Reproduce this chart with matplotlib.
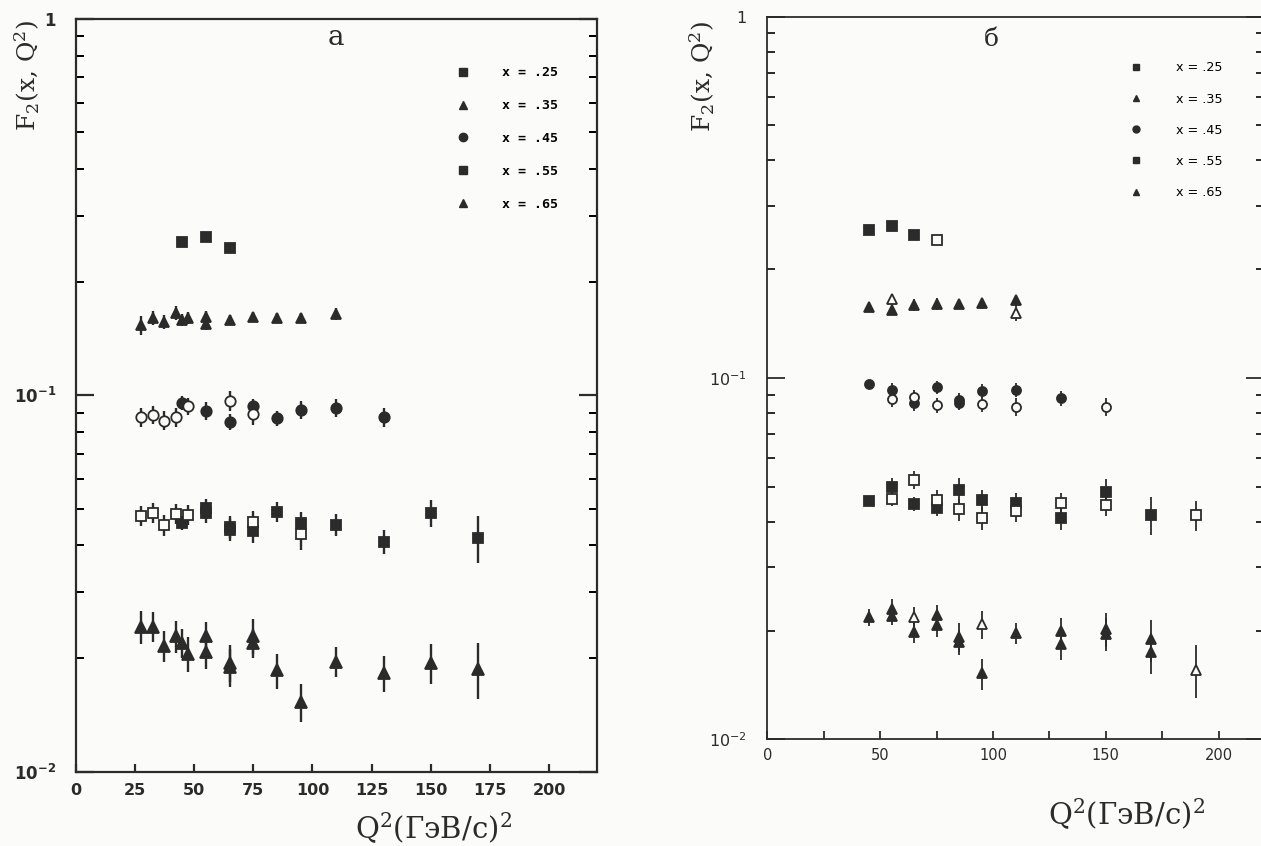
import numpy as np
import matplotlib
matplotlib.use("Agg")
import matplotlib.pyplot as plt
from matplotlib.ticker import LogLocator, NullFormatter
from matplotlib.lines import Line2D

INK = '#2b2b2b'
PAPER = '#fbfbf9'

# ---------- panel "a" ----------
a25_q2 = [45, 55, 65]
a25_f2 = [0.255, 0.264, 0.247]
a25_err = [0.006, 0.006, 0.006]

a35_q2 = [27.5, 32.5, 37.5, 42.5, 45, 47.5, 55, 55, 65, 75, 85, 95, 110]
a35_f2 = [0.154, 0.161, 0.157, 0.166, 0.159, 0.161, 0.162, 0.155, 0.159, 0.162, 0.161, 0.161, 0.165]
a35_err = [0.009, 0.007, 0.007, 0.007, 0.006, 0.006, 0.006, 0.006, 0.005, 0.005, 0.005, 0.005, 0.006]

a45_q2 = [27.5, 32.5, 37.5, 42.5, 45, 47.5, 55, 65, 65, 75, 75, 85, 95, 110, 130]
a45_f2 = [0.0876, 0.0889, 0.0857, 0.0876, 0.0954, 0.0935, 0.0911, 0.0968, 0.0850,
          0.0939, 0.0894, 0.0871, 0.0916, 0.0926, 0.0874]
a45_err = [0.005, 0.005, 0.005, 0.005, 0.004, 0.005, 0.005, 0.006, 0.004,
           0.004, 0.006, 0.004, 0.005, 0.005, 0.005]
a45_open = [1, 1, 1, 1, 0, 1, 0, 1, 0, 0, 1, 0, 0, 0, 0]

a55_q2 = [27.5, 32.5, 37.5, 42.5, 45, 47.5, 55, 55, 65, 65, 75, 75, 85, 95, 95, 110, 130, 150, 170]
a55_f2 = [0.0479, 0.0488, 0.0452, 0.0484, 0.0458, 0.0482, 0.0502, 0.0488, 0.0448, 0.0440,
          0.0462, 0.0435, 0.0490, 0.0459, 0.0428, 0.0453, 0.0409, 0.0487, 0.0418]
a55_err = [0.003, 0.003, 0.003, 0.003, 0.002, 0.003, 0.003, 0.003, 0.003, 0.003,
           0.003, 0.003, 0.003, 0.003, 0.004, 0.003, 0.003, 0.004, 0.006]
a55_open = [1, 1, 1, 1, 0, 1, 0, 0, 0, 0, 1, 0, 0, 0, 1, 0, 0, 0, 0]

a65_q2 = [27.5, 32.5, 37.5, 42.5, 45, 47.5, 55, 55, 65, 65, 75, 75, 85, 95, 110, 130, 150, 170]
a65_f2 = [0.0243, 0.0243, 0.0216, 0.0229, 0.0220, 0.0206, 0.0230, 0.0208, 0.0195, 0.0190,
          0.0230, 0.0220, 0.0186, 0.01535, 0.0196, 0.0183, 0.0195, 0.0188]
a65_err = [0.0024, 0.0022, 0.002, 0.0022, 0.002, 0.0022, 0.002, 0.002, 0.0022, 0.0022,
           0.0025, 0.002, 0.002, 0.0018, 0.0018, 0.002, 0.0024, 0.0032]

# ---------- panel "б" ----------
b25_q2 = [45, 55, 65, 75]
b25_f2 = [0.256, 0.264, 0.248, 0.241]
b25_err = [0.005, 0.008, 0.007, 0.008]
b25_open = [0, 0, 0, 1]

b35_q2 = [45, 55, 55, 65, 75, 85, 95, 110, 110]
b35_f2 = [0.157, 0.165, 0.154, 0.159, 0.160, 0.160, 0.161, 0.164, 0.151]
b35_err = [0.004, 0.006, 0.005, 0.006, 0.006, 0.005, 0.006, 0.006, 0.007]
b35_open = [0, 1, 0, 0, 0, 0, 0, 0, 1]

b45_q2 = [45, 55, 55, 65, 65, 75, 75, 85, 85, 95, 95, 110, 110, 130, 150]
b45_f2 = [0.0961, 0.0926, 0.0873, 0.0884, 0.0851, 0.0943, 0.0842, 0.0869, 0.0855,
          0.0922, 0.0847, 0.0926, 0.0833, 0.0879, 0.0833]
b45_err = [0.002, 0.004, 0.004, 0.004, 0.004, 0.004, 0.004, 0.004, 0.004,
           0.004, 0.004, 0.004, 0.005, 0.004, 0.005]
b45_open = [0, 0, 1, 1, 0, 0, 1, 0, 0, 0, 1, 0, 1, 0, 1]

b55_q2 = [45, 55, 55, 65, 65, 75, 75, 85, 85, 95, 95, 110, 110, 130, 130, 150, 150, 170, 190]
b55_f2 = [0.0457, 0.0498, 0.0462, 0.0522, 0.0448, 0.0459, 0.0436, 0.0490, 0.0433, 0.0459,
          0.0409, 0.0452, 0.0429, 0.0450, 0.0409, 0.0485, 0.0445, 0.0418, 0.0418]
b55_err = [0.0015, 0.003, 0.002, 0.003, 0.002, 0.003, 0.002, 0.004, 0.003, 0.003,
           0.003, 0.003, 0.003, 0.003, 0.003, 0.004, 0.003, 0.005, 0.004]
b55_open = [0, 0, 1, 1, 0, 1, 0, 0, 1, 0, 1, 0, 1, 1, 0, 0, 1, 0, 1]

b65_q2 = [45, 55, 55, 65, 65, 75, 75, 85, 85, 95, 95, 110, 130, 130, 150, 150, 170, 170, 190]
b65_f2 = [0.0218, 0.0230, 0.0219, 0.0218, 0.0198, 0.0221, 0.0207, 0.0192, 0.0186, 0.0208,
          0.01523, 0.0197, 0.0199, 0.0184, 0.0202, 0.0196, 0.0189, 0.0174, 0.0156]
b65_err = [0.0012, 0.0015, 0.0012, 0.0015, 0.0013, 0.0015, 0.0015, 0.0018, 0.0015, 0.0018,
           0.0015, 0.0013, 0.0018, 0.0018, 0.0022, 0.002, 0.0025, 0.0022, 0.0026]
b65_open = [0, 0, 0, 1, 0, 0, 0, 0, 0, 1, 0, 0, 0, 0, 0, 0, 0, 0, 1]

legend_labels = ['x = .25', 'x = .35', 'x = .45', 'x = .55', 'x = .65']
legend_markers = ['s', '^', 'o', 's', '^']

a_xticks = [0, 25, 50, 75, 100, 125, 150, 175, 200]
b_xticks = [0, 50, 100, 150, 200]
b_xminor = [25, 75, 125, 175]


def draw_group(ax, q2, f2, err, hollow, marker, ms, lw):
    q2, f2, err = np.asarray(q2), np.asarray(f2), np.asarray(err)
    hollow = np.asarray(hollow, dtype=bool)
    for mask, face in ((~hollow, INK), (hollow, PAPER)):
        if mask.any():
            ax.errorbar(q2[mask], f2[mask], yerr=err[mask], fmt=marker, ms=ms,
                        mfc=face, mec=INK, mew=1.3, ecolor=INK, elinewidth=lw,
                        capsize=0)


def setup_log_axes(ax, lw, pad):
    ax.set_facecolor(PAPER)
    ax.set_yscale('log')
    ax.set_ylim(0.01, 1)
    ax.set_xlim(0, 220)
    for side in ('left', 'bottom', 'right', 'top'):
        ax.spines[side].set_linewidth(lw)
        ax.spines[side].set_color(INK)
    ax.yaxis.set_minor_locator(LogLocator(base=10, subs=np.arange(2, 10)))
    ax.yaxis.set_minor_formatter(NullFormatter())
    ax.tick_params(axis='y', which='major', direction='in', length=13, width=lw,
                   right=True, pad=pad, colors=INK)
    ax.tick_params(axis='y', which='minor', direction='in', length=6, width=lw * 0.9,
                   right=True)
    ax.tick_params(axis='x', which='both', direction='in', length=6, width=lw,
                   colors=INK)


fig = plt.figure(figsize=(12.61, 8.46), dpi=100, facecolor=PAPER)

# left panel
ax1 = fig.add_axes([0.0600, 0.0878, 0.4132, 0.8897])
setup_log_axes(ax1, 1.6, 14)
ax1.set_xticks(a_xticks, [str(t) for t in a_xticks], fontweight='bold', fontsize=11.5)
ax1.tick_params(axis='x', pad=8)
ax1.set_yticks([0.01, 0.1, 1],
               [r'$\mathbf{10^{-2}}$', r'$\mathbf{10^{-1}}$', r'$\mathbf{1}$'],
               fontsize=12)

draw_group(ax1, a25_q2, a25_f2, a25_err, [0] * len(a25_q2), 's', 7.5, 1.7)
draw_group(ax1, a35_q2, a35_f2, a35_err, [0] * len(a35_q2), '^', 7.5, 1.7)
draw_group(ax1, a45_q2, a45_f2, a45_err, a45_open, 'o', 7.5, 1.7)
draw_group(ax1, a55_q2, a55_f2, a55_err, a55_open, 's', 7.5, 1.7)
draw_group(ax1, a65_q2, a65_f2, a65_err, [0] * len(a65_q2), '^', 8, 1.7)

handles = [Line2D([], [], ls='none', marker=m, ms=6, mfc=INK, mec=INK)
           for m in legend_markers]
ax1.legend(handles, legend_labels, loc='upper left', bbox_to_anchor=(0.730, 0.937),
           frameon=False, borderpad=0, borderaxespad=0, handlelength=1.0,
           handletextpad=2.5, labelspacing=1.5,
           prop={'family': 'DejaVu Sans Mono', 'weight': 'bold', 'size': 9.5})
ax1.text(0.50, 0.975, 'a', transform=ax1.transAxes, ha='center', va='center',
         family='DejaVu Serif', fontsize=20, color=INK)

# right panel
ax2 = fig.add_axes([0.6086, 0.1261, 0.3936, 0.8542])
setup_log_axes(ax2, 1.3, 15)
ax2.set_xticks(b_xticks, [str(t) for t in b_xticks], fontsize=10.5)
ax2.set_xticks(b_xminor, minor=True)
ax2.tick_params(axis='x', pad=6)
ax2.set_yticks([0.01, 0.1, 1], [r'$10^{-2}$', r'$10^{-1}$', r'$1$'], fontsize=11.5)

draw_group(ax2, b25_q2, b25_f2, b25_err, b25_open, 's', 6.5, 1.3)
draw_group(ax2, b35_q2, b35_f2, b35_err, b35_open, '^', 6.5, 1.3)
draw_group(ax2, b45_q2, b45_f2, b45_err, b45_open, 'o', 6.5, 1.3)
draw_group(ax2, b55_q2, b55_f2, b55_err, b55_open, 's', 6.5, 1.3)
draw_group(ax2, b65_q2, b65_f2, b65_err, b65_open, '^', 6.5, 1.3)

handles = [Line2D([], [], ls='none', marker=m, ms=5, mfc=INK, mec=INK)
           for m in legend_markers]
ax2.legend(handles, legend_labels, loc='upper left', bbox_to_anchor=(0.73, 0.938),
           frameon=False, borderpad=0, borderaxespad=0, handlelength=1.0,
           handletextpad=2.6, labelspacing=1.42,
           prop={'family': 'DejaVu Sans', 'size': 9.2})
ax2.text(0.45, 0.968, 'б', transform=ax2.transAxes, ha='center', va='center',
         family='DejaVu Serif', fontsize=18, color=INK)

# axis titles
ylab = 'F$_2$(x, Q$^2$)'
xlab = 'Q$^2$(ГэВ/с)$^2$'
fig.text(0.022, 0.911, ylab, rotation=90, ha='center', va='center',
         family='DejaVu Serif', math_fontfamily='dejavuserif', fontsize=18, color=INK)
fig.text(0.557, 0.910, ylab, rotation=90, ha='center', va='center',
         family='DejaVu Serif', math_fontfamily='dejavuserif', fontsize=18, color=INK)
fig.text(0.344, 0.021, xlab, ha='center', va='center',
         family='DejaVu Serif', math_fontfamily='dejavuserif', fontsize=21, color=INK)
fig.text(0.893, 0.037, xlab, ha='center', va='center',
         family='DejaVu Serif', math_fontfamily='dejavuserif', fontsize=21, color=INK)

fig.savefig('out.png', dpi=100, facecolor=PAPER)
